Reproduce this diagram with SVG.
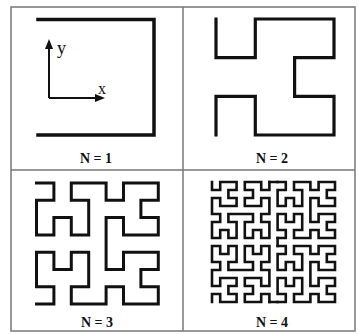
<svg xmlns="http://www.w3.org/2000/svg" xmlns:xlink="http://www.w3.org/1999/xlink" width="358" height="334" viewBox="0 0 358 334">
<style>
.frame{fill:none;stroke:#777;stroke-width:1.5}
.curve{fill:none;stroke:#111;stroke-linejoin:miter;stroke-linecap:square;vector-effect:non-scaling-stroke}
.lbl{font-family:"Liberation Serif",serif;font-weight:bold;font-size:14px;fill:#111;text-anchor:middle}
.ax{font-family:"Liberation Serif",serif;fill:#111}
.axl{stroke:#111;stroke-width:2;fill:none}
</style>
<defs>
<path id="h3" class="curve" d="M0,0 L1,0 L1,1 L0,1 L0,2 L0,3 L1,3 L1,2 L2,2 L2,3 L3,3 L3,2 L3,1 L2,1 L2,0 L3,0 L4,0 L4,1 L5,1 L5,0 L6,0 L7,0 L7,1 L6,1 L6,2 L7,2 L7,3 L6,3 L5,3 L5,2 L4,2 L4,3 L4,4 L4,5 L5,5 L5,4 L6,4 L7,4 L7,5 L6,5 L6,6 L7,6 L7,7 L6,7 L5,7 L5,6 L4,6 L4,7 L3,7 L2,7 L2,6 L3,6 L3,5 L3,4 L2,4 L2,5 L1,5 L1,4 L0,4 L0,5 L0,6 L1,6 L1,7 L0,7"/>
</defs>
<g id="frame">
<rect class="frame" x="11" y="7" width="344" height="324"/>
<line class="frame" x1="183" y1="7" x2="183" y2="331"/>
<line class="frame" x1="11" y1="170" x2="355" y2="170"/>
</g>
<g id="n1">
<path class="curve" stroke-width="3.5" d="M38,19.5 H154 V135 H38"/>
<g id="axes">
<path class="axl" d="M49,98 V47 M49,98 H97"/>
<path d="M49,39 L45,49 L53,49 Z" fill="#111"/>
<path d="M105,98 L95,94 L95,102 Z" fill="#111"/>
<text class="ax" x="57" y="54" font-size="18">y</text>
<text class="ax" x="98" y="94" font-size="16">x</text>
</g>
<text class="lbl" x="96" y="163">N = 1</text>
</g>
<g id="n2">
<path class="curve" stroke-width="3.2" d="M216,19 V57.7 H255.3 V19 H334 V57.7 H294.6 V96.4 H334 V135 H255.3 V96.4 H216 V135"/>
<text class="lbl" x="272" y="163">N = 2</text>
</g>
<g id="n3">
<use xlink:href="#h3" href="#h3" stroke-width="3" transform="translate(36.5,183) scale(17.4,17.3)"/>
<text class="lbl" x="97" y="327">N = 3</text>
</g>
<g id="n4">
<g transform="translate(212,182) scale(8.2,8)" stroke-width="2.6">
<use xlink:href="#h3" href="#h3" transform="matrix(0,1,1,0,0,0)"/>
<use xlink:href="#h3" href="#h3" transform="translate(8,0)"/>
<use xlink:href="#h3" href="#h3" transform="translate(8,8)"/>
<use xlink:href="#h3" href="#h3" transform="matrix(0,-1,-1,0,7,15)"/>
<path class="curve" d="M7,0 H8 M8,7 V8 M8,15 H7"/>
</g>
<text class="lbl" x="272" y="327">N = 4</text>
</g>
</svg>
